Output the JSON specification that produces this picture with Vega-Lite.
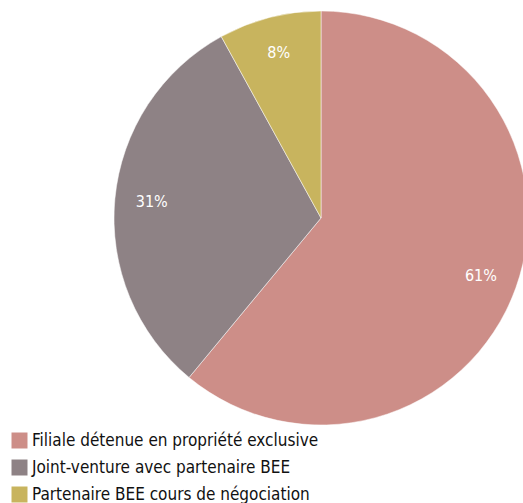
{
  "$schema": "https://vega.github.io/schema/vega-lite/v6.json",
  "width": 523,
  "height": 503,
  "padding": 0,
  "autosize": {"type": "none"},
  "background": "white",
  "data": {"values": [
    {"cat": "Filiale détenue en propriété exclusive", "value": 61, "label": "61%", "ord": 1},
    {"cat": "Joint-venture avec partenaire BEE", "value": 31, "label": "31%", "ord": 2},
    {"cat": "Partenaire BEE cours de négociation", "value": 8, "label": "8%", "ord": 3}
  ]},
  "encoding": {
    "theta": {"field": "value", "type": "quantitative", "stack": true},
    "order": {"field": "ord", "type": "quantitative"}
  },
  "layer": [
    {
      "mark": {"type": "arc", "x": 321, "y": 218, "outerRadius": 207, "stroke": "white", "strokeWidth": 0.5},
      "encoding": {
        "color": {
          "field": "cat", "type": "nominal",
          "scale": {
            "domain": ["Filiale détenue en propriété exclusive", "Joint-venture avec partenaire BEE", "Partenaire BEE cours de négociation"],
            "range": ["#CD8E88", "#8E8285", "#C8B45E"]
          },
          "legend": {
            "title": null,
            "orient": "none",
            "legendX": 11,
            "legendY": 432,
            "symbolType": "square",
            "symbolSize": 256,
            "symbolStrokeWidth": 0,
            "labelFont": "DejaVu Sans Condensed",
            "labelFontSize": 17,
            "labelColor": "#111111",
            "labelOffset": 4,
            "rowPadding": 9,
            "labelLimit": 400
          }
        }
      }
    },
    {
      "mark": {"type": "text", "x": 321, "y": 218, "radius": 170, "color": "white", "font": "DejaVu Sans Condensed", "fontSize": 16},
      "encoding": {
        "text": {"field": "label"}
      }
    }
  ]
}
